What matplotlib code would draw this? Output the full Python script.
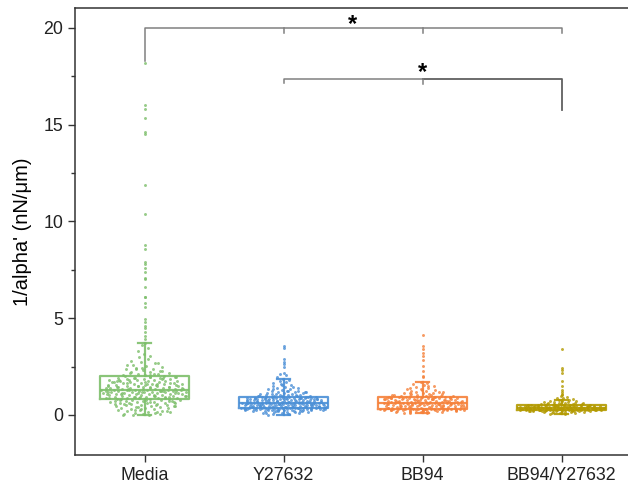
import numpy as np
import matplotlib.pyplot as plt

plt.rcParams['font.family'] = ['Liberation Sans', 'DejaVu Sans']

groups = ['Media', 'Y27632', 'BB94', 'BB94/Y27632']
colors = ['#7dbf6b', '#4a8fd6', '#f5813a', '#b39a00']

# per-cell values (nN/um)
media = [
    0.0, 0.0, 0.01, 0.03, 0.05, 0.07, 0.09, 0.12, 0.14, 0.17, 0.19, 0.22, 0.24, 0.27, 0.29,
    0.31, 0.34, 0.36, 0.38, 0.41, 0.43, 0.45, 0.47, 0.49, 0.51, 0.53, 0.55, 0.56, 0.58, 0.6,
    0.61, 0.63, 0.64, 0.66, 0.67, 0.69, 0.7, 0.72, 0.73, 0.74, 0.76, 0.77, 0.79, 0.8, 0.82,
    0.84, 0.85, 0.86, 0.88, 0.89, 0.9, 0.91, 0.93, 0.94, 0.95, 0.96, 0.98, 0.99, 1.0, 1.01,
    1.02, 1.04, 1.05, 1.06, 1.07, 1.08, 1.09, 1.1, 1.12, 1.13, 1.14, 1.15, 1.16, 1.17, 1.18,
    1.19, 1.2, 1.21, 1.22, 1.23, 1.24, 1.25, 1.26, 1.27, 1.28, 1.29, 1.29, 1.3, 1.3, 1.31,
    1.32, 1.33, 1.35, 1.36, 1.37, 1.39, 1.4, 1.41, 1.43, 1.44, 1.46, 1.47, 1.49, 1.5, 1.52,
    1.53, 1.55, 1.56, 1.58, 1.59, 1.61, 1.62, 1.64, 1.65, 1.67, 1.68, 1.7, 1.71, 1.73, 1.75,
    1.76, 1.78, 1.8, 1.81, 1.83, 1.85, 1.86, 1.88, 1.9, 1.91, 1.93, 1.95, 1.97, 1.99, 2.01,
    0.33, 0.46, 0.52, 0.62, 0.68, 0.75, 0.81, 0.87, 0.92, 0.97, 1.03, 1.08, 1.11, 1.16, 1.19,
    1.24, 1.27, 1.33, 1.38, 1.42, 1.45, 1.51, 1.54, 1.57, 1.63, 1.66, 1.72, 1.77, 1.84, 1.89,
    1.94, 1.98, 0.58, 0.71, 0.95, 1.06, 1.22, 1.35, 1.48, 1.6, 1.79, 1.92, 0.39, 0.88, 1.0,
    1.14, 1.26, 1.44, 1.69, 0.15, 0.26, 0.48, 0.66, 0.78, 0.93, 1.11, 1.37, 1.58, 1.83, 0.21,
    2.04, 2.07, 2.1, 2.13, 2.16, 2.2, 2.24, 2.27, 2.31, 2.35, 2.4, 2.44, 2.49, 2.54, 2.6,
    2.66, 2.72, 2.8, 2.88, 2.97, 3.06, 3.17, 3.3, 3.45, 3.6, 3.72, 2.05, 2.18, 2.29, 2.42,
    2.57, 2.12, 2.36, 2.69,
    3.9, 4.1, 4.3, 4.5, 4.6, 4.8, 4.96, 5.6, 5.8, 6.1, 6.1, 6.6, 7.0, 7.1, 7.4, 7.6, 7.8,
    7.9, 8.6, 8.8, 10.4, 11.9, 14.5, 14.6, 15.35, 15.8, 16.0, 18.2,
]
y27632 = [
    0.02, 0.04, 0.06, 0.08, 0.1, 0.11, 0.13, 0.14, 0.15, 0.17, 0.18, 0.19, 0.2, 0.21, 0.22,
    0.23, 0.24, 0.25, 0.25, 0.26, 0.27, 0.28, 0.28, 0.29, 0.29, 0.3, 0.3, 0.31, 0.31, 0.32,
    0.32, 0.33, 0.33, 0.33, 0.34, 0.34, 0.34, 0.35, 0.35, 0.35, 0.35, 0.36, 0.36, 0.36, 0.36,
    0.37, 0.37, 0.38, 0.38, 0.39, 0.39, 0.4, 0.41, 0.41, 0.42, 0.43, 0.43, 0.44, 0.45, 0.45,
    0.46, 0.47, 0.47, 0.48, 0.49, 0.49, 0.5, 0.51, 0.51, 0.52, 0.53, 0.53, 0.54, 0.55, 0.55,
    0.56, 0.57, 0.57, 0.58, 0.58, 0.59, 0.59, 0.6, 0.6, 0.61, 0.61, 0.61, 0.62, 0.62, 0.62,
    0.63, 0.63, 0.64, 0.65, 0.65, 0.66, 0.67, 0.67, 0.68, 0.69, 0.69, 0.7, 0.71, 0.72, 0.72,
    0.73, 0.74, 0.75, 0.75, 0.76, 0.77, 0.78, 0.78, 0.79, 0.8, 0.81, 0.81, 0.82, 0.83, 0.84,
    0.84, 0.85, 0.86, 0.87, 0.87, 0.88, 0.89, 0.89, 0.9, 0.9, 0.91, 0.91, 0.92, 0.92, 0.93,
    0.28, 0.31, 0.34, 0.37, 0.4, 0.42, 0.44, 0.46, 0.48, 0.5, 0.52, 0.54, 0.56, 0.58, 0.6,
    0.62, 0.64, 0.66, 0.68, 0.7, 0.72, 0.74, 0.76, 0.78, 0.8, 0.82, 0.84, 0.86, 0.88, 0.9,
    0.33, 0.39, 0.45, 0.51, 0.57, 0.63, 0.69, 0.75, 0.81, 0.87, 0.12, 0.19, 0.22, 0.26, 0.07,
    0.94, 0.95, 0.96, 0.97, 0.98, 0.99, 1.0, 1.01, 1.02, 1.04, 1.05, 1.06, 1.08, 1.09, 1.11,
    1.12, 1.14, 1.16, 1.18, 1.2, 1.22, 1.24, 1.26, 1.29, 1.32, 1.35, 1.38, 1.41, 1.45, 1.49,
    1.53, 1.58, 1.63, 1.68, 1.74, 1.8, 1.86, 0.97, 1.03, 1.1, 1.17, 1.25, 1.33, 1.43, 1.56,
    1.95, 2.04, 2.11, 2.19, 2.49, 2.63, 2.76, 2.88, 3.45, 3.58,
]
bb94 = [
    0.08, 0.1, 0.12, 0.14, 0.15, 0.17, 0.18, 0.19, 0.2, 0.21, 0.22, 0.23, 0.24, 0.24, 0.25,
    0.25, 0.26, 0.26, 0.27, 0.27, 0.28, 0.28, 0.29, 0.29, 0.29, 0.3, 0.3, 0.3, 0.31, 0.31,
    0.31, 0.32, 0.32, 0.32, 0.32,
    0.33, 0.34, 0.35, 0.36, 0.37, 0.38, 0.39, 0.4, 0.41, 0.42, 0.43, 0.44, 0.45, 0.46, 0.47,
    0.48, 0.49, 0.5, 0.5, 0.51, 0.52, 0.53, 0.54, 0.55, 0.55, 0.56, 0.57, 0.58, 0.58, 0.59,
    0.6, 0.6, 0.61, 0.61, 0.62, 0.62,
    0.63, 0.64, 0.65, 0.66, 0.67, 0.68, 0.69, 0.7, 0.71, 0.72, 0.73, 0.74, 0.75, 0.76, 0.77,
    0.78, 0.79, 0.8, 0.81, 0.82, 0.83, 0.84, 0.85, 0.86, 0.87, 0.88, 0.89, 0.9, 0.91, 0.92,
    0.93, 0.93, 0.94, 0.94, 0.95,
    0.21, 0.27, 0.33, 0.36, 0.39, 0.43, 0.46, 0.49, 0.52, 0.56, 0.59, 0.63, 0.66, 0.69, 0.72,
    0.75, 0.78, 0.81, 0.84, 0.87, 0.9, 0.93, 0.35, 0.41, 0.47, 0.53, 0.61, 0.67, 0.73, 0.79,
    0.85, 0.91, 0.16, 0.24, 0.29, 0.38, 0.44, 0.57, 0.7, 0.83, 0.45, 0.64, 0.77, 0.88, 0.52,
    0.96, 0.97, 0.98, 0.99, 1.0, 1.02, 1.03, 1.05, 1.07, 1.09, 1.11, 1.13, 1.15, 1.18, 1.2,
    1.23, 1.26, 1.29, 1.32, 1.36, 1.4, 1.44, 1.49, 1.54, 1.6, 1.65, 1.7, 1.01, 1.06, 1.12,
    1.19, 1.27, 1.38, 1.52,
    1.97, 2.02, 2.28, 2.54, 2.83, 3.06, 3.18, 3.4, 3.58, 4.13,
]
bb94_y27632 = [
    0.05, 0.07, 0.09, 0.1, 0.12, 0.13, 0.14, 0.15, 0.16, 0.17, 0.18, 0.18, 0.19, 0.2, 0.2,
    0.21, 0.21, 0.22, 0.22, 0.23, 0.23, 0.23, 0.24, 0.24, 0.24, 0.25, 0.25, 0.25, 0.25, 0.25,
    0.26, 0.26, 0.27, 0.27, 0.28, 0.28, 0.28, 0.29, 0.29, 0.3, 0.3, 0.3, 0.31, 0.31, 0.32,
    0.32, 0.32, 0.33, 0.33, 0.34, 0.34, 0.34, 0.35, 0.35, 0.35, 0.36, 0.36, 0.37, 0.37, 0.37,
    0.38, 0.38, 0.38, 0.38, 0.39, 0.39, 0.4, 0.4, 0.4, 0.41, 0.41, 0.42, 0.42, 0.42, 0.43,
    0.43, 0.44, 0.44, 0.45, 0.45, 0.45, 0.46, 0.46, 0.47, 0.47, 0.48, 0.48, 0.49, 0.49, 0.5,
    0.26, 0.27, 0.29, 0.31, 0.33, 0.35, 0.36, 0.37, 0.39, 0.41, 0.43, 0.44, 0.46, 0.48, 0.49,
    0.28, 0.3, 0.32, 0.34, 0.36, 0.38, 0.4, 0.42, 0.44, 0.46, 0.22, 0.19, 0.24, 0.51, 0.53,
    0.5, 0.5, 0.51, 0.52, 0.53, 0.54, 0.55, 0.56, 0.57, 0.58, 0.59, 0.6, 0.61, 0.62, 0.63,
    0.64, 0.65, 0.66, 0.68, 0.7, 0.72, 0.74, 0.76, 0.78,
    0.82, 0.86, 0.9, 0.94, 0.98, 1.02, 1.08, 1.16, 1.28, 1.5, 1.76, 2.19, 2.32, 2.42, 3.4,
]
values = [media, y27632, bb94, bb94_y27632]

# box statistics per group
q1 = [0.83, 0.36, 0.32, 0.25]
median = [1.3, 0.62, 0.62, 0.38]
q3 = [2.02, 0.93, 0.95, 0.5]
whisker_lo = [0.0, 0.02, 0.08, 0.05]
whisker_hi = [3.72, 1.86, 1.7, 0.78]

fig = plt.figure(figsize=(6.28, 4.93), dpi=100)
ax = fig.add_axes([75 / 628, 38 / 493, 556 / 628, 447 / 493])

box_w = 0.64
golden = (np.sqrt(5) - 1) / 2
for i, (vals, c) in enumerate(zip(values, colors)):
    y = np.asarray(vals, dtype=float)
    # spread each point sideways according to how crowded its level is
    h = 0.12 * (q3[i] - q1[i]) + 0.03
    dens = np.array([np.sum(np.abs(y - v) < h) for v in y], dtype=float)
    spread = np.clip((dens - 2) / (dens.max() - 2), 0, 1) ** 0.45
    u = (np.arange(len(y)) * golden) % 1.0 * 2 - 1
    x = (i + 1) + u * spread * box_w / 2
    ax.scatter(x, y, s=4.5, color=c, alpha=0.8, linewidths=0, zorder=2)

stats = [dict(med=median[i], q1=q1[i], q3=q3[i], whislo=whisker_lo[i],
              whishi=whisker_hi[i], fliers=[]) for i in range(len(groups))]
bp = ax.bxp(stats, positions=range(1, 5), widths=box_w, capwidths=0.1,
            showfliers=False, patch_artist=False, zorder=3)
for i, c in enumerate(colors):
    bp['boxes'][i].set(color=c, linewidth=1.6, alpha=0.9)
    bp['medians'][i].set(color=c, linewidth=1.6, alpha=0.9)
    for k in (2 * i, 2 * i + 1):
        bp['whiskers'][k].set(color=c, linewidth=1.6, alpha=0.9)
        bp['caps'][k].set(color=c, linewidth=1.6, alpha=0.9)

# significance brackets
bc = '#808080'
ax.plot([1, 1, 4, 4], [18.3, 20.0, 20.0, 19.75], color=bc, lw=1.1, zorder=4)
for xp in (2, 3):
    ax.plot([xp, xp], [20.0, 19.75], color=bc, lw=1.1, zorder=4)
ax.text(2.5, 19.6, '*', ha='center', va='bottom', fontsize=17, fontweight='bold')

ax.plot([2, 2, 3], [17.15, 17.36, 17.36], color=bc, lw=1.1, zorder=4)
ax.plot([3, 4, 4], [17.36, 17.36, 15.75], color='#606060', lw=1.3, zorder=4)
ax.plot([3, 3], [17.36, 17.1], color=bc, lw=1.1, zorder=4)
ax.text(3, 17.1, '*', ha='center', va='bottom', fontsize=17, fontweight='bold')

ax.set_xlim(0.5, 4.5)
ax.set_ylim(-2.07, 21.03)
ax.set_xticks(range(1, 5))
ax.set_xticklabels(groups)
ax.set_yticks([0, 5, 10, 15, 20])
ax.set_yticks([2.5, 7.5, 12.5, 17.5], minor=True)
ax.tick_params(axis='both', which='major', direction='out', length=5, width=1,
               labelsize=12.8, color='#333333', labelcolor='#222222')
ax.tick_params(axis='y', which='minor', direction='out', length=3, width=1, color='#333333')
ax.set_ylabel("1/alpha' (nN/\u03bcm)", fontsize=14.5, labelpad=8)
for s in ax.spines.values():
    s.set_color('#333333')
    s.set_linewidth(1.1)

fig.savefig('out.png', dpi=100)
